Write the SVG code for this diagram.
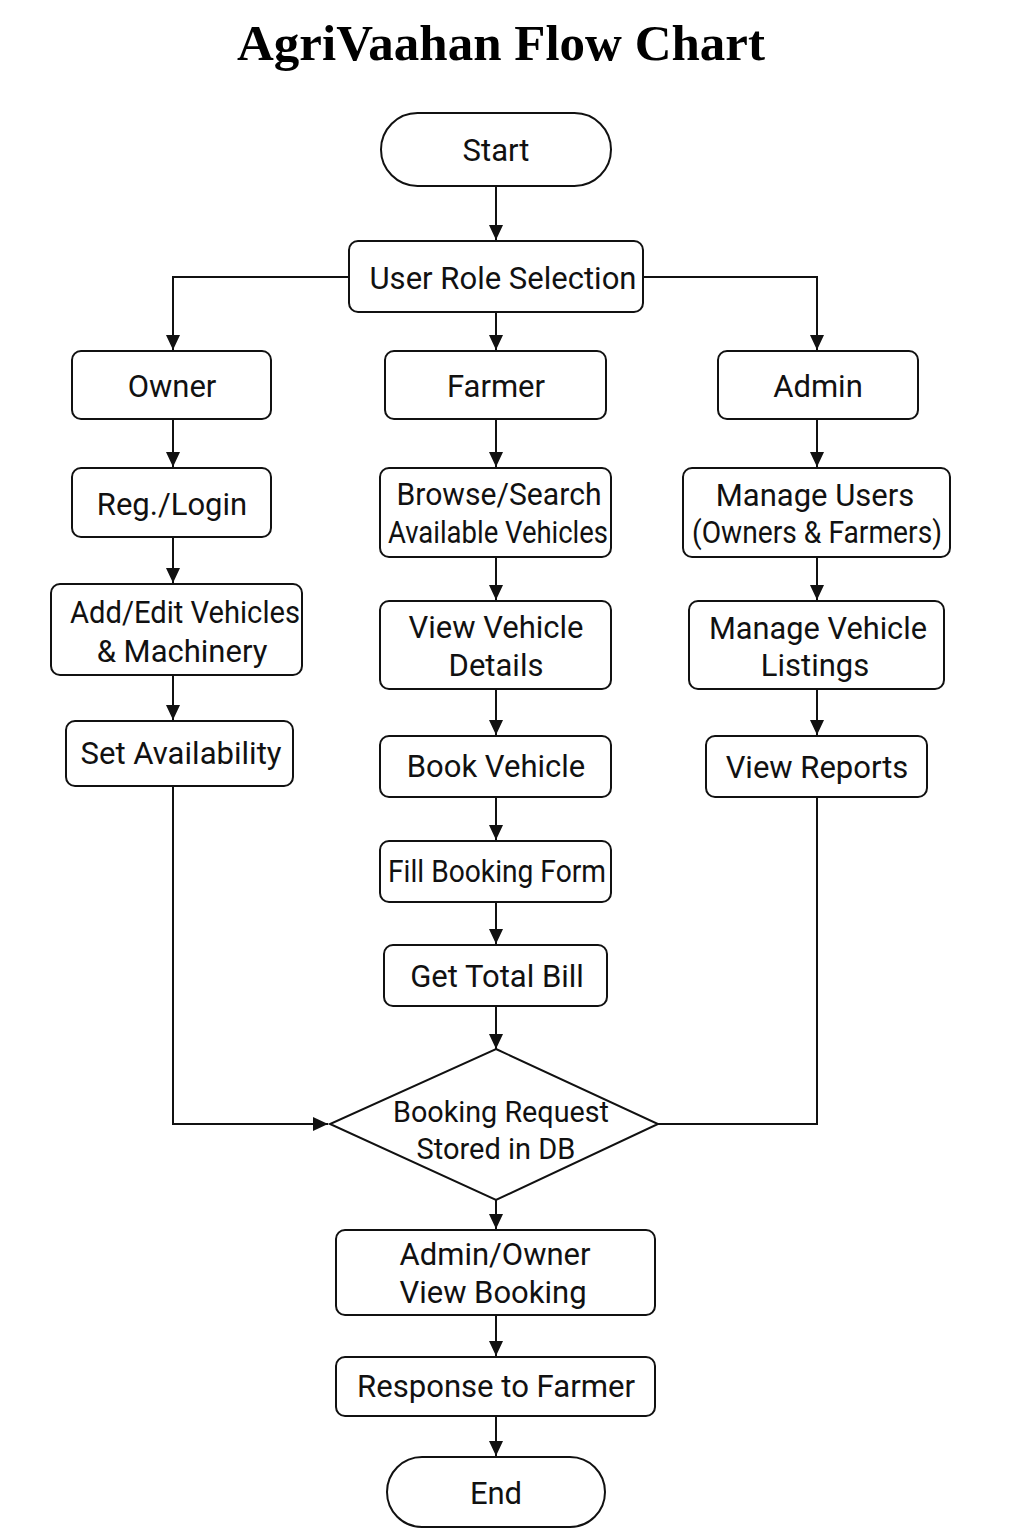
<svg xmlns="http://www.w3.org/2000/svg" width="1024" height="1536" viewBox="0 0 1024 1536">
<style>
.n{fill:#fff;stroke:#111;stroke-width:2}
.t{font-family:Roboto,"Liberation Sans",sans-serif;font-size:31px;fill:#111;text-anchor:middle}
.c{fill:none;stroke:#111;stroke-width:2}
.title{font-family:"Liberation Serif",serif;font-weight:bold;font-size:50px;fill:#000;text-anchor:middle}
</style>
<defs>
<marker id="a" markerWidth="15" markerHeight="14" refX="15" refY="7" orient="auto" markerUnits="userSpaceOnUse">
<path d="M0,0 L15,7 L0,14 Z" fill="#111"/>
</marker>
</defs>
<rect width="1024" height="1536" fill="#fff"/>
<text class="title" x="501" y="60" textLength="528" lengthAdjust="spacingAndGlyphs">AgriVaahan Flow Chart</text>

<g id="connectors">
<path class="c" d="M496,186 V240" marker-end="url(#a)"/>
<path class="c" d="M349,277 H173 V350" marker-end="url(#a)"/>
<path class="c" d="M643,277 H817 V350" marker-end="url(#a)"/>
<path class="c" d="M496,312 V350" marker-end="url(#a)"/>
<path class="c" d="M173,419 V467" marker-end="url(#a)"/>
<path class="c" d="M173,537 V583" marker-end="url(#a)"/>
<path class="c" d="M173,675 V720" marker-end="url(#a)"/>
<path class="c" d="M173,786 V1124 H328" marker-end="url(#a)"/>
<path class="c" d="M496,419 V467" marker-end="url(#a)"/>
<path class="c" d="M496,557 V600" marker-end="url(#a)"/>
<path class="c" d="M496,689 V735" marker-end="url(#a)"/>
<path class="c" d="M496,797 V840" marker-end="url(#a)"/>
<path class="c" d="M496,902 V944" marker-end="url(#a)"/>
<path class="c" d="M496,1006 V1049" marker-end="url(#a)"/>
<path class="c" d="M817,419 V467" marker-end="url(#a)"/>
<path class="c" d="M817,557 V600" marker-end="url(#a)"/>
<path class="c" d="M817,689 V735" marker-end="url(#a)"/>
<path class="c" d="M817,797 V1124 H658"/>
<path class="c" d="M496,1200 V1229" marker-end="url(#a)"/>
<path class="c" d="M496,1315 V1356" marker-end="url(#a)"/>
<path class="c" d="M496,1416 V1456" marker-end="url(#a)"/>
</g>

<g id="start"><rect class="n" x="381" y="113" width="230" height="73" rx="36.5"/><text class="t" x="496" y="161">Start</text></g>
<g id="role"><rect class="n" x="349" y="241" width="294" height="71" rx="9"/><text class="t" x="503" y="289" textLength="267" lengthAdjust="spacingAndGlyphs">User Role Selection</text></g>
<g id="owner"><rect class="n" x="72" y="351" width="199" height="68" rx="9"/><text class="t" x="172" y="397">Owner</text></g>
<g id="farmer"><rect class="n" x="385" y="351" width="221" height="68" rx="9"/><text class="t" x="496" y="397">Farmer</text></g>
<g id="admin"><rect class="n" x="718" y="351" width="200" height="68" rx="9"/><text class="t" x="818" y="397">Admin</text></g>
<g id="reglogin"><rect class="n" x="72" y="468" width="199" height="69" rx="9"/><text class="t" x="172" y="515">Reg./Login</text></g>
<g id="addedit"><rect class="n" x="51" y="584" width="251" height="91" rx="9"/><text class="t" x="185" y="623" textLength="230" lengthAdjust="spacingAndGlyphs">Add/Edit Vehicles</text><text class="t" x="182" y="662">&amp; Machinery</text></g>
<g id="setavail"><rect class="n" x="66" y="721" width="227" height="65" rx="9"/><text class="t" x="181" y="764" textLength="201" lengthAdjust="spacingAndGlyphs">Set Availability</text></g>
<g id="browse"><rect class="n" x="380" y="468" width="231" height="89" rx="9"/><text class="t" x="499" y="505" textLength="205" lengthAdjust="spacingAndGlyphs">Browse/Search</text><text class="t" x="498" y="543" textLength="220" lengthAdjust="spacingAndGlyphs">Available Vehicles</text></g>
<g id="viewdetails"><rect class="n" x="380" y="601" width="231" height="88" rx="9"/><text class="t" x="496" y="638">View Vehicle</text><text class="t" x="496" y="676">Details</text></g>
<g id="book"><rect class="n" x="380" y="736" width="231" height="61" rx="9"/><text class="t" x="496" y="777">Book Vehicle</text></g>
<g id="fillform"><rect class="n" x="380" y="841" width="231" height="61" rx="9"/><text class="t" x="497" y="882" textLength="218" lengthAdjust="spacingAndGlyphs">Fill Booking Form</text></g>
<g id="totalbill"><rect class="n" x="384" y="945" width="223" height="61" rx="9"/><text class="t" x="497" y="987">Get Total Bill</text></g>
<g id="manageusers"><rect class="n" x="683" y="468" width="267" height="89" rx="9"/><text class="t" x="815" y="506">Manage Users</text><text class="t" x="817" y="543" textLength="250" lengthAdjust="spacingAndGlyphs">(Owners &amp; Farmers)</text></g>
<g id="managelistings"><rect class="n" x="689" y="601" width="255" height="88" rx="9"/><text class="t" x="818" y="639" textLength="218" lengthAdjust="spacingAndGlyphs">Manage Vehicle</text><text class="t" x="815" y="676">Listings</text></g>
<g id="reports"><rect class="n" x="706" y="736" width="221" height="61" rx="9"/><text class="t" x="817" y="778">View Reports</text></g>
<g id="stored"><polygon class="n" points="496,1049 658,1124 496,1200 330,1124"/><text class="t" x="501" y="1122" style="font-size:29px" textLength="216" lengthAdjust="spacingAndGlyphs">Booking Request</text><text class="t" x="496" y="1159" style="font-size:29px">Stored in DB</text></g>
<g id="viewbooking"><rect class="n" x="336" y="1230" width="319" height="85" rx="9"/><text class="t" x="495" y="1265">Admin/Owner</text><text class="t" x="493" y="1303">View Booking</text></g>
<g id="response"><rect class="n" x="336" y="1357" width="319" height="59" rx="9"/><text class="t" x="496" y="1397" textLength="278" lengthAdjust="spacingAndGlyphs">Response to Farmer</text></g>
<g id="end"><rect class="n" x="387" y="1457" width="218" height="70" rx="35"/><text class="t" x="496" y="1504">End</text></g>
</svg>
